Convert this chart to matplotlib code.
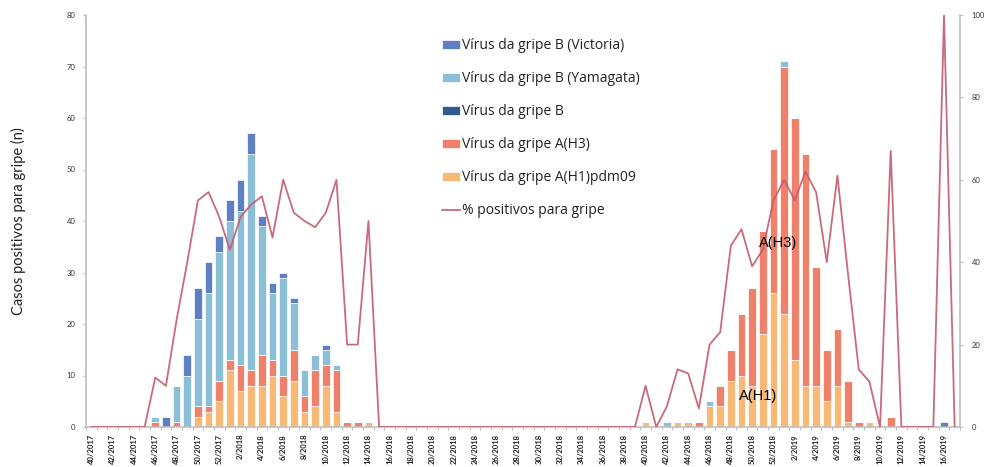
import matplotlib
matplotlib.use("Agg")
import matplotlib.pyplot as plt
import numpy as np

# ---- data (weeks 40/2017 .. 17/2019) ----
weeks = ([f"{w}/2017" for w in range(40, 53)] +
         [f"{w}/2018" for w in range(1, 53)] +
         [f"{w}/2019" for w in range(1, 18)])

h1pdm09 = [0,0,0,0,0,0,0,0,0,0,2,3,5,11,7,8,8,10,6,9,3,4,8,3,0,0,1,
           0,0,0,0,0,0,0,0,0,0,0,0,0,0,0,0,0,0,0,0,0,0,0,0,0,1,0,0,1,1,0,
           4,4,9,10,8,18,26,22,13,8,8,5,8,1,0,1,0,0,0,0,0,0,0,0]
h3 =      [0,0,0,0,0,0,1,0,1,0,2,1,4,2,5,3,6,3,4,6,3,7,4,8,1,1,0,
           0,0,0,0,0,0,0,0,0,0,0,0,0,0,0,0,0,0,0,0,0,0,0,0,0,0,0,0,0,0,1,
           0,4,6,12,19,20,28,48,47,45,23,10,11,8,1,0,0,2,0,0,0,0,0,0]
b_nd =    [0]*82
yamagata = [0,0,0,0,0,0,1,0,7,10,17,22,25,27,30,42,25,13,19,9,5,3,3,1,0,0,0,
            0,0,0,0,0,0,0,0,0,0,0,0,0,0,0,0,0,0,0,0,0,0,0,0,0,0,0,1,0,0,0,
            1,0,0,0,0,0,0,1,0,0,0,0,0,0,0,0,0,0,0,0,0,0,0,0]
victoria = [0,0,0,0,0,0,0,2,0,4,6,6,3,4,6,4,2,2,1,1,0,0,1,0,0,0,0,
            0,0,0,0,0,0,0,0,0,0,0,0,0,0,0,0,0,0,0,0,0,0,0,0,0,0,0,0,0,0,0,
            0,0,0,0,0,0,0,0,0,0,0,0,0,0,0,0,0,0,0,0,0,0,1,0]
pct_pos = [0,0,0,0,0,0,12,10,26,40,55,57,51,43,51,54,56,46,60,52,50,48.5,52,60,20,20,50,
           0,0,0,0,0,0,0,0,0,0,0,0,0,0,0,0,0,0,0,0,0,0,0,0,0,10,0,5,14,13,4.5,
           20,23,44,48,39,43,55,60,55,62,57,40,61,37,14,11,0,67,0,0,0,0,100,0]

series = [("Vírus da gripe A(H1)pdm09", h1pdm09, "#f8b976"),
          ("Vírus da gripe A(H3)", h3, "#ef8069"),
          ("Vírus da gripe B", b_nd, "#2f5b8f"),
          ("Vírus da gripe B (Yamagata)", yamagata, "#8bbfd6"),
          ("Vírus da gripe B (Victoria)", victoria, "#5d80c2")]

plt.rcParams['font.family'] = ['Lato', 'DejaVu Sans']

fig = plt.figure(figsize=(9.9, 4.67), dpi=100)
ax = fig.add_axes([86/990, 1-427/467, (960-86)/990, (427-15)/467])
x = np.arange(len(weeks))

bottom = np.zeros(len(weeks))
handles = {}
for name, vals, col in series:
    v = np.array(vals, dtype=float)
    b = ax.bar(x, v, 0.72, bottom=bottom, color=col, edgecolor="white",
               linewidth=0.5, label=name, zorder=2)
    handles[name] = b
    bottom += v

ax.set_xlim(-0.5, len(weeks)-0.5)
ax.set_ylim(0, 80)
ax.set_yticks(range(0, 81, 10))
ax.set_xticks(x[::2])
ax.set_xticklabels(weeks[::2], rotation=90, fontsize=5.5, color="#222222",
                   va="top", ha="center", fontweight="bold")
ax.tick_params(axis="x", which="major", length=0, pad=5)
ax.set_xticks(np.arange(-0.5, len(weeks), 1), minor=True)
ax.tick_params(axis="x", which="minor", length=2.5, color="#bfbfbf", width=0.8)
ax.tick_params(axis="y", labelsize=5.5, length=2.5, color="#bfbfbf",
               labelcolor="#333333", pad=5)
for s in ["top", "right"]:
    ax.spines[s].set_visible(False)
for s in ["left", "bottom"]:
    ax.spines[s].set_color("#bfbfbf")
    ax.spines[s].set_linewidth(1.2)
ax.set_ylabel("Casos positivos para gripe (n)", fontsize=10.5, color="#222222",
              labelpad=29)

ax2 = ax.twinx()
line, = ax2.plot(x, pct_pos, color="#c45b6c", lw=1.3, alpha=0.9,
                 label="% positivos para gripe", zorder=3)
ax2.set_ylim(0, 100)
ax2.set_yticks(range(0, 101, 20))
ax2.tick_params(axis="y", labelsize=5.5, length=2.5, color="#bfbfbf",
                labelcolor="#333333", pad=6)
for s in ["top", "left", "bottom"]:
    ax2.spines[s].set_visible(False)
ax2.spines["right"].set_color("#bfbfbf")
ax2.spines["right"].set_linewidth(1.2)

fig.text(778/990, 1-243/467, "A(H3)", fontsize=10.5, ha="center", va="center",
         family=["Liberation Sans"], color="black")
fig.text(758/990, 1-396/467, "A(H1)", fontsize=10.5, ha="center", va="center",
         family=["Liberation Sans"], color="black")

order = ["Vírus da gripe B (Victoria)", "Vírus da gripe B (Yamagata)",
         "Vírus da gripe B", "Vírus da gripe A(H3)", "Vírus da gripe A(H1)pdm09"]
hs = [handles[n] for n in order] + [line]
ls = order + ["% positivos para gripe"]
leg = fig.legend(hs, ls, loc="upper left", bbox_to_anchor=(442/990, 1-38/467),
                 frameon=False, prop={"family": ["Open Sans"], "size": 10},
                 labelspacing=1.3, handlelength=1.3, handleheight=0.6,
                 handletextpad=0.15, borderpad=0, borderaxespad=0)
for t in leg.get_texts():
    t.set_color("#222222")

fig.savefig("out.png", dpi=100)
